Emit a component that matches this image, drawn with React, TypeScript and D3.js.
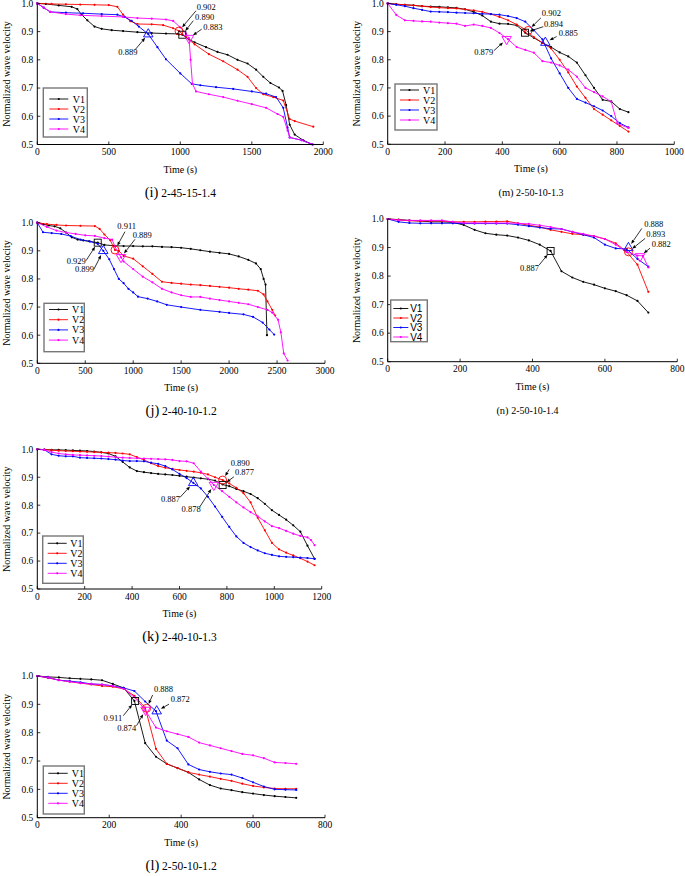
import React from 'react';
import * as d3 from 'd3';

type Pt = [number, number];

const SERIES_NAMES = ['V1', 'V2', 'V3', 'V4'];
const SERIES_COLORS = ['#000000', '#ff0000', '#0000ff', '#ff00ff'];
const Y_TICKS = [0.5, 0.6, 0.7, 0.8, 0.9, 1.0];

// ---------- (i) 2-45-15-1.4 ----------
const I_XTICKS = [0, 500, 1000, 1500, 2000];
const i_V1: Pt[] = [[0,1],[60,0.998],[150,0.993],[240,0.988],[280,0.98],[310,0.96],[350,0.94],[400,0.918],[450,0.91],[520,0.905],[600,0.902],[700,0.898],[800,0.895],[900,0.893],[980,0.892],[1014,0.889],[1060,0.873],[1100,0.862],[1180,0.845],[1260,0.828],[1330,0.818],[1400,0.8],[1470,0.787],[1530,0.765],[1580,0.74],[1630,0.718],[1690,0.702],[1715,0.69],[1740,0.64],[1765,0.57],[1800,0.535],[1860,0.515],[1925,0.5]];
const i_V2: Pt[] = [[0,1],[100,0.998],[200,0.997],[300,0.996],[400,0.995],[500,0.994],[560,0.988],[600,0.96],[650,0.937],[700,0.927],[800,0.926],[880,0.923],[950,0.912],[991,0.902],[1040,0.88],[1100,0.855],[1200,0.82],[1300,0.795],[1400,0.765],[1470,0.74],[1530,0.7],[1580,0.678],[1650,0.668],[1720,0.656],[1765,0.59],[1800,0.583],[1930,0.563]];
const i_V3: Pt[] = [[0,1],[45,0.985],[90,0.97],[200,0.967],[320,0.965],[450,0.962],[560,0.96],[610,0.952],[660,0.938],[710,0.918],[776,0.891],[840,0.845],[900,0.802],[1000,0.752],[1080,0.715],[1140,0.71],[1250,0.703],[1370,0.697],[1500,0.688],[1600,0.68],[1670,0.668],[1720,0.63],[1750,0.56],[1765,0.525],[1850,0.515],[1925,0.5]];
const i_V4: Pt[] = [[0,1],[45,0.985],[90,0.97],[200,0.962],[300,0.958],[450,0.955],[600,0.952],[700,0.948],[800,0.946],[900,0.943],[950,0.938],[1000,0.915],[1040,0.893],[1061,0.877],[1072,0.8],[1085,0.715],[1110,0.688],[1200,0.678],[1300,0.668],[1400,0.655],[1500,0.643],[1600,0.63],[1680,0.608],[1720,0.598],[1750,0.55],[1765,0.525],[1850,0.515],[1925,0.5]];
const i_marks = [
  { s: 1, t: 991, v: 0.902, label: '0.902' },
  { s: 0, t: 1014, v: 0.889, label: '0.890' },
  { s: 3, t: 1061, v: 0.877, label: '0.883' },
  { s: 2, t: 776, v: 0.891, label: '0.889' },
];

// ---------- (m) 2-50-10-1.3 ----------
const M_XTICKS = [0, 200, 400, 600, 800, 1000];
const m_V1: Pt[] = [[0,1],[30,0.997],[60,0.995],[90,0.993],[120,0.99],[150,0.989],[180,0.988],[210,0.986],[240,0.984],[270,0.979],[300,0.97],[330,0.957],[360,0.935],[390,0.928],[420,0.927],[450,0.922],[480,0.896],[510,0.878],[540,0.86],[570,0.845],[600,0.826],[630,0.812],[660,0.79],[690,0.745],[720,0.7],[750,0.658],[780,0.652],[810,0.625],[840,0.614]];
const m_V2: Pt[] = [[0,1],[30,0.997],[60,0.995],[90,0.993],[120,0.99],[150,0.987],[180,0.985],[210,0.983],[240,0.982],[270,0.979],[300,0.975],[330,0.97],[360,0.962],[390,0.952],[420,0.94],[450,0.925],[480,0.907],[510,0.88],[540,0.86],[570,0.84],[600,0.8],[630,0.755],[660,0.705],[690,0.665],[720,0.625],[750,0.605],[780,0.585],[810,0.565],[840,0.545]];
const m_V3: Pt[] = [[0,1],[30,0.995],[60,0.99],[90,0.983],[120,0.977],[150,0.971],[180,0.97],[210,0.969],[240,0.967],[270,0.966],[300,0.965],[330,0.963],[360,0.962],[390,0.96],[420,0.955],[450,0.948],[480,0.935],[510,0.905],[540,0.872],[570,0.805],[600,0.752],[630,0.7],[660,0.661],[690,0.648],[720,0.635],[750,0.62],[780,0.6],[810,0.575],[840,0.56]];
const m_V4: Pt[] = [[0,1],[30,0.959],[60,0.94],[90,0.938],[120,0.936],[150,0.935],[180,0.932],[210,0.93],[240,0.928],[270,0.92],[300,0.925],[330,0.92],[360,0.913],[390,0.895],[420,0.873],[450,0.845],[480,0.835],[510,0.825],[540,0.795],[570,0.79],[600,0.78],[630,0.765],[660,0.74],[690,0.7],[720,0.685],[750,0.67],[780,0.651],[801,0.574],[840,0.558]];
const m_marks = [
  { s: 1, t: 490, v: 0.904, label: '0.902' },
  { s: 0, t: 479, v: 0.896, label: '0.894' },
  { s: 2, t: 550, v: 0.861, label: '0.885' },
  { s: 3, t: 415, v: 0.873, label: '0.879' },
];

// ---------- (j) 2-40-10-1.2 ----------
const J_XTICKS = [0, 500, 1000, 1500, 2000, 2500, 3000];
const j_V1: Pt[] = [[0,1],[60,0.995],[120,0.99],[180,0.987],[240,0.98],[300,0.965],[360,0.948],[420,0.94],[480,0.937],[540,0.934],[630,0.929],[700,0.921],[800,0.918],[900,0.917],[1000,0.917],[1100,0.916],[1200,0.916],[1300,0.914],[1400,0.913],[1500,0.911],[1600,0.907],[1700,0.902],[1800,0.897],[1900,0.893],[2000,0.889],[2100,0.88],[2200,0.868],[2280,0.855],[2330,0.835],[2360,0.8],[2380,0.78],[2395,0.6]];
const j_V2: Pt[] = [[0,1],[100,0.995],[200,0.992],[300,0.99],[450,0.989],[600,0.988],[650,0.978],[700,0.958],[760,0.938],[810,0.903],[850,0.9],[900,0.882],[1000,0.872],[1100,0.845],[1200,0.818],[1300,0.79],[1400,0.786],[1500,0.783],[1600,0.78],[1700,0.778],[1800,0.775],[1900,0.772],[2000,0.769],[2100,0.765],[2200,0.762],[2300,0.758],[2360,0.745],[2400,0.72],[2450,0.69],[2480,0.67]];
const j_V3: Pt[] = [[0,1],[60,0.966],[150,0.963],[250,0.96],[350,0.952],[450,0.94],[550,0.933],[630,0.925],[688,0.9],[750,0.87],[800,0.835],[850,0.8],[900,0.785],[950,0.765],[1000,0.752],[1050,0.737],[1150,0.73],[1250,0.72],[1350,0.708],[1500,0.7],[1700,0.69],[1900,0.683],[2000,0.679],[2150,0.674],[2250,0.665],[2350,0.645],[2420,0.62],[2470,0.602]];
const j_V4: Pt[] = [[0,1],[100,0.985],[200,0.972],[300,0.965],[400,0.96],[500,0.955],[600,0.953],[700,0.945],[780,0.94],[810,0.915],[873,0.877],[900,0.862],[1000,0.835],[1100,0.808],[1200,0.788],[1300,0.765],[1400,0.752],[1500,0.742],[1600,0.736],[1700,0.736],[1800,0.73],[1900,0.725],[2000,0.72],[2100,0.715],[2200,0.71],[2300,0.7],[2400,0.69],[2450,0.68],[2510,0.655],[2540,0.61],[2570,0.535],[2610,0.51]];
const j_marks = [
  { s: 1, t: 810, v: 0.903, label: '0.911' },
  { s: 3, t: 873, v: 0.877, label: '0.889' },
  { s: 0, t: 630, v: 0.929, label: '0.929' },
  { s: 2, t: 688, v: 0.9, label: '0.899' },
];

// ---------- (n) 2-50-10-1.4 ----------
const N_XTICKS = [0, 200, 400, 600, 800];
const n_V1: Pt[] = [[0,1],[30,0.998],[60,0.995],[90,0.993],[120,0.99],[150,0.99],[180,0.988],[210,0.979],[240,0.962],[270,0.95],[300,0.945],[330,0.942],[360,0.935],[390,0.925],[420,0.91],[450,0.888],[480,0.817],[510,0.795],[540,0.78],[570,0.77],[600,0.757],[630,0.747],[660,0.733],[690,0.713],[720,0.672]];
const n_V2: Pt[] = [[0,1],[30,0.997],[60,0.994],[90,0.993],[120,0.993],[150,0.993],[180,0.99],[210,0.99],[240,0.99],[270,0.991],[300,0.991],[330,0.992],[360,0.985],[390,0.978],[420,0.972],[450,0.962],[480,0.955],[510,0.948],[540,0.945],[570,0.94],[600,0.93],[630,0.915],[660,0.885],[690,0.84],[720,0.745]];
const n_V3: Pt[] = [[0,1],[30,0.99],[60,0.986],[90,0.985],[120,0.985],[150,0.985],[180,0.985],[210,0.984],[240,0.984],[270,0.984],[300,0.984],[330,0.984],[360,0.98],[390,0.975],[420,0.97],[450,0.966],[480,0.965],[510,0.955],[540,0.945],[570,0.935],[600,0.91],[630,0.897],[660,0.895],[690,0.86],[720,0.833]];
const n_V4: Pt[] = [[0,1],[30,0.996],[60,0.995],[90,0.995],[120,0.995],[150,0.995],[180,0.99],[210,0.986],[240,0.986],[270,0.986],[300,0.986],[330,0.986],[360,0.985],[390,0.983],[420,0.978],[450,0.972],[480,0.965],[510,0.955],[540,0.948],[570,0.94],[600,0.93],[630,0.91],[660,0.885],[690,0.872],[705,0.871],[720,0.83]];
const n_marks = [
  { s: 2, t: 665, v: 0.899, label: '0.888' },
  { s: 1, t: 665, v: 0.885, label: '0.893' },
  { s: 3, t: 697, v: 0.869, label: '0.882' },
  { s: 0, t: 450, v: 0.888, label: '0.887' },
];

// ---------- (k) 2-40-10-1.3 ----------
const K_XTICKS = [0, 200, 400, 600, 800, 1000, 1200];
const k_V1: Pt[] = [[0,1],[30,0.999],[60,0.998],[90,0.998],[120,0.997],[150,0.996],[180,0.995],[210,0.994],[240,0.992],[270,0.989],[300,0.985],[330,0.975],[360,0.955],[390,0.935],[420,0.922],[450,0.918],[480,0.915],[510,0.912],[540,0.91],[570,0.908],[600,0.905],[630,0.902],[660,0.899],[690,0.896],[720,0.893],[750,0.888],[782,0.874],[810,0.868],[840,0.858],[870,0.85],[900,0.84],[930,0.825],[960,0.805],[990,0.782],[1020,0.765],[1050,0.748],[1080,0.728],[1110,0.705],[1140,0.655],[1170,0.608]];
const k_V2: Pt[] = [[0,1],[30,0.999],[60,0.997],[90,0.995],[120,0.994],[150,0.993],[180,0.992],[210,0.991],[240,0.99],[270,0.989],[300,0.988],[330,0.987],[360,0.985],[390,0.982],[420,0.972],[450,0.962],[480,0.95],[510,0.94],[540,0.934],[570,0.93],[600,0.926],[630,0.923],[660,0.92],[690,0.916],[720,0.91],[750,0.9],[782,0.89],[810,0.878],[840,0.862],[870,0.843],[900,0.81],[930,0.755],[960,0.71],[990,0.665],[1020,0.642],[1050,0.63],[1080,0.62],[1110,0.61],[1140,0.598],[1170,0.585]];
const k_V3: Pt[] = [[0,1],[30,0.998],[60,0.982],[90,0.977],[120,0.975],[150,0.975],[180,0.97],[210,0.969],[240,0.968],[270,0.967],[300,0.965],[330,0.963],[360,0.96],[390,0.958],[420,0.958],[450,0.957],[480,0.952],[510,0.948],[540,0.94],[570,0.928],[600,0.912],[630,0.897],[658,0.88],[690,0.86],[720,0.83],[750,0.795],[780,0.758],[810,0.722],[840,0.688],[870,0.665],[900,0.65],[930,0.638],[960,0.628],[990,0.622],[1020,0.617],[1050,0.615],[1080,0.614],[1110,0.612],[1140,0.611],[1170,0.608]];
const k_V4: Pt[] = [[0,1],[30,0.998],[60,0.99],[90,0.985],[120,0.982],[150,0.98],[180,0.979],[210,0.978],[240,0.977],[270,0.976],[300,0.974],[330,0.972],[360,0.97],[390,0.969],[420,0.968],[450,0.967],[480,0.966],[510,0.965],[540,0.964],[570,0.962],[600,0.958],[630,0.957],[660,0.95],[690,0.92],[720,0.895],[745,0.872],[780,0.85],[810,0.83],[840,0.81],[870,0.792],[900,0.775],[930,0.76],[960,0.742],[990,0.725],[1020,0.718],[1050,0.708],[1080,0.698],[1110,0.69],[1140,0.685],[1155,0.675],[1170,0.657]];
const k_marks = [
  { s: 1, t: 782, v: 0.89, label: '0.890' },
  { s: 0, t: 782, v: 0.872, label: '0.877' },
  { s: 2, t: 658, v: 0.88, label: '0.887' },
  { s: 3, t: 745, v: 0.872, label: '0.878' },
];

// ---------- (l) 2-50-10-1.2 ----------
const L_XTICKS = [0, 200, 400, 600, 800];
const l_V1: Pt[] = [[0,1],[30,0.997],[60,0.995],[90,0.992],[120,0.99],[150,0.988],[180,0.985],[210,0.972],[240,0.958],[270,0.912],[300,0.763],[330,0.715],[360,0.69],[390,0.675],[420,0.66],[450,0.635],[480,0.615],[510,0.603],[540,0.597],[570,0.59],[600,0.585],[630,0.58],[660,0.576],[690,0.573],[720,0.57]];
const l_V2: Pt[] = [[0,1],[30,0.993],[60,0.986],[90,0.98],[120,0.975],[150,0.97],[180,0.965],[210,0.962],[240,0.955],[270,0.93],[300,0.888],[330,0.743],[360,0.69],[390,0.675],[420,0.66],[450,0.652],[480,0.645],[510,0.637],[540,0.63],[570,0.62],[600,0.612],[630,0.607],[660,0.603],[690,0.602],[720,0.602]];
const l_V3: Pt[] = [[0,1],[30,0.995],[60,0.985],[90,0.982],[120,0.978],[150,0.972],[180,0.97],[210,0.965],[240,0.958],[270,0.947],[300,0.91],[330,0.876],[360,0.772],[390,0.745],[420,0.688],[450,0.67],[480,0.662],[510,0.656],[540,0.652],[570,0.64],[600,0.625],[630,0.61],[660,0.6],[690,0.599],[720,0.598]];
const l_V4: Pt[] = [[0,1],[30,0.995],[60,0.985],[90,0.98],[120,0.975],[150,0.972],[180,0.97],[210,0.965],[240,0.955],[270,0.925],[300,0.88],[330,0.818],[360,0.805],[390,0.795],[420,0.785],[450,0.765],[480,0.755],[510,0.745],[540,0.735],[570,0.725],[600,0.72],[630,0.71],[660,0.695],[690,0.693],[720,0.69]];
const l_marks = [
  { s: 1, t: 304, v: 0.886, label: '0.888' },
  { s: 2, t: 332, v: 0.876, label: '0.872' },
  { s: 0, t: 272, v: 0.912, label: '0.911' },
  { s: 3, t: 301, v: 0.88, label: '0.874' },
];

// ---------- layout (pixels) ----------
const SERIF = '"Liberation Serif", "DejaVu Serif", serif';
const SANS = '"Liberation Sans", Arial, sans-serif';

const LAYOUT: Record<string, any> = {
  i: { x0: 37.3, x1: 323.3, y0: 3.4, y1: 144.5, ylabX: 9.5, capBig: true, capDx: 0,
       legend: { x: 43.3, y: 88, w: 44, h: 49, l0: 6, l1: 25, tx: 29.5, row0: 99, step: 10, font: SERIF },
       notes: [[17.7,-21.5,17,-20.3],[12.7,-14.7,11,-14],[14.3,-8.3,12.7,-9],[-30,20.7,-13.3,15.7]] },
  m: { x0: 387.7, x1: 674.3, y0: 3.4, y1: 144.3, ylabX: 360, capBig: false, capDx: 0,
       legend: { x: 395, y: 84, w: 42, h: 46, l0: 5, l1: 24, tx: 28, row0: 90, step: 10, font: SERIF },
       notes: [[13.7,-14,12.7,-12.5],[19,-5.6,18.3,-6],[13.3,-7,11.3,-6],[-32.4,15.7,-12.7,11.4]] },
  j: { x0: 37.3, x1: 325, y0: 222.7, y1: 363.3, ylabX: 9.5, capBig: true, capDx: 0,
       legend: { x: 44, y: 303.3, w: 40.3, h: 48.4, l0: 5, l1: 24, tx: 28, row0: 309.5, step: 10.2, font: SERIF },
       notes: [[2.3,-20.7,10,-18.3],[11.7,-19.6,14,-18],[-31,21.3,-11.7,18],[-28.3,21.6,-9.3,18.3]] },
  n: { x0: 387.7, x1: 677.3, y0: 219, y1: 361.7, ylabX: 360, capBig: false, capDx: -5,
       legend: { x: 390.7, y: 300, w: 36.6, h: 41.7, l0: 2.6, l1: 17.6, tx: 19.5, row0: 308.5, step: 9.5, font: SANS },
       notes: [[15.7,-21,13.4,-19.4],[17.7,-14.4,16.7,-13.4],[11.7,-9.8,10,-8.2],[-30.7,19.7,-11.4,14]] },
  k: { x0: 37.3, x1: 321.7, y0: 449.3, y1: 589, ylabX: 9.5, capBig: true, capDx: 0,
       legend: { x: 42.7, y: 536, w: 40.6, h: 47.3, l0: 5, l1: 24, tx: 27.5, row0: 543.3, step: 10, font: SERIF },
       notes: [[8,-14.3,6.6,-10.7],[12.3,-10,11.3,-8.3],[-32.3,19,-13.3,14.6],[-32.3,26.7,-14,21.7]] },
  l: { x0: 37.3, x1: 325, y0: 676, y1: 817.7, ylabX: 9.5, capBig: true, capDx: 0,
       legend: { x: 43.3, y: 766, w: 41, h: 48, l0: 5, l1: 24.4, tx: 28.4, row0: 773.3, step: 10, font: SERIF },
       notes: [[7.3,-16,6,-13.3],[14,-8.7,12.3,-7],[-31.7,20,-11.7,14.7],[-28.4,21,-9,15.7]] },
};

const PANELS = [
  { key: 'i', tag: '(i)', name: '2-45-15-1.4', xTicks: I_XTICKS, series: [i_V1, i_V2, i_V3, i_V4], marks: i_marks },
  { key: 'm', tag: '(m)', name: '2-50-10-1.3', xTicks: M_XTICKS, series: [m_V1, m_V2, m_V3, m_V4], marks: m_marks },
  { key: 'j', tag: '(j)', name: '2-40-10-1.2', xTicks: J_XTICKS, series: [j_V1, j_V2, j_V3, j_V4], marks: j_marks },
  { key: 'n', tag: '(n)', name: '2-50-10-1.4', xTicks: N_XTICKS, series: [n_V1, n_V2, n_V3, n_V4], marks: n_marks },
  { key: 'k', tag: '(k)', name: '2-40-10-1.3', xTicks: K_XTICKS, series: [k_V1, k_V2, k_V3, k_V4], marks: k_marks },
  { key: 'l', tag: '(l)', name: '2-50-10-1.2', xTicks: L_XTICKS, series: [l_V1, l_V2, l_V3, l_V4], marks: l_marks },
];

function markerShape(s: number, cx: number, cy: number, color: string, key: string) {
  const common = { fill: 'none', stroke: color, strokeWidth: 0.9 };
  if (s === 0) {
    const a = 7;
    return <rect key={key} x={cx - a / 2} y={cy - a / 2} width={a} height={a} {...common} />;
  }
  if (s === 1) return <circle key={key} cx={cx} cy={cy} r={4} {...common} />;
  const side = 9.5;
  const h = (side * Math.sqrt(3)) / 2;
  const d = s === 2
    ? `M${cx},${cy - (2 * h) / 3}L${cx + side / 2},${cy + h / 3}L${cx - side / 2},${cy + h / 3}Z`
    : `M${cx},${cy + (2 * h) / 3}L${cx + side / 2},${cy - h / 3}L${cx - side / 2},${cy - h / 3}Z`;
  return <path key={key} d={d} {...common} />;
}

function Panel({ p }: { p: any }) {
  const L = LAYOUT[p.key];
  const xMax = p.xTicks[p.xTicks.length - 1];
  const x = d3.scaleLinear().domain([0, xMax]).range([L.x0, L.x1]);
  const y = d3.scaleLinear().domain([0.5, 1.0]).range([L.y1, L.y0]);
  const line = d3.line<Pt>().x((d) => x(d[0])).y((d) => y(d[1]));
  const cx = (L.x0 + L.x1) / 2;
  const cy = (L.y0 + L.y1) / 2;
  const lg = L.legend;

  return (
    <g>
      {p.series.map((data: Pt[], si: number) => (
        <g key={'s' + si}>
          <path d={line(data) || ''} fill="none" stroke={SERIES_COLORS[si]} strokeWidth={0.9} />
          {data.map((d, di) => (
            <circle key={di} cx={x(d[0])} cy={y(d[1])} r={1.1} fill={SERIES_COLORS[si]} />
          ))}
        </g>
      ))}
      <line x1={L.x0} x2={L.x0} y1={L.y0} y2={L.y1} stroke="#000" strokeWidth={1} />
      <line x1={L.x0} x2={L.x1} y1={L.y1} y2={L.y1} stroke="#000" strokeWidth={1} />
      {Y_TICKS.map((t) => (
        <g key={'yt' + t}>
          <line x1={L.x0} x2={L.x0 + 3} y1={y(t)} y2={y(t)} stroke="#000" strokeWidth={0.8} />
          <text x={L.x0 - 4} y={y(t)} dy="0.35em" textAnchor="end" fontSize={9.5} fontFamily={SERIF}>
            {d3.format('.1f')(t)}
          </text>
        </g>
      ))}
      {p.xTicks.map((t: number) => (
        <g key={'xt' + t}>
          <line x1={x(t)} x2={x(t)} y1={L.y1} y2={L.y1 - 3} stroke="#000" strokeWidth={0.8} />
          <text x={x(t)} y={L.y1 + 10.5} textAnchor="middle" fontSize={9.5} fontFamily={SERIF}>
            {t}
          </text>
        </g>
      ))}
      <text x={cx} y={L.y1 + 28} textAnchor="middle" fontSize={10} fontFamily={SERIF}>Time (s)</text>
      <text transform={`translate(${L.ylabX},${cy}) rotate(-90)`} textAnchor="middle" fontSize={10} fontFamily={SERIF}>
        Normalized wave velocity
      </text>
      <text x={cx + L.capDx} y={L.y1 + 52} textAnchor="middle" fontFamily={SERIF} fontSize={L.capBig ? 11.5 : 10}>
        <tspan fontSize={L.capBig ? 14.5 : 10.5}>{p.tag}</tspan>
        <tspan> {p.name}</tspan>
      </text>
      <rect x={lg.x} y={lg.y} width={lg.w} height={lg.h} fill="#fff" stroke="#777" strokeWidth={1.4} />
      {SERIES_NAMES.map((nm, k) => {
        const ry = lg.row0 + k * lg.step;
        return (
          <g key={'lg' + k}>
            <line x1={lg.x + lg.l0} x2={lg.x + lg.l1} y1={ry} y2={ry} stroke={SERIES_COLORS[k]} strokeWidth={0.9} />
            <circle cx={lg.x + (lg.l0 + lg.l1) / 2} cy={ry} r={1.1} fill={SERIES_COLORS[k]} />
            <text x={lg.x + lg.tx} y={ry} dy="0.35em" fontSize={10} fontFamily={lg.font}>{nm}</text>
          </g>
        );
      })}
      {p.marks.map((m: any, k: number) => {
        const mx = x(m.t);
        const my = y(m.v);
        const [tdx, tdy, adx, ady] = L.notes[k];
        const tx = mx + adx;
        const ty = my + ady;
        const dx = mx - tx;
        const dy = my - ty;
        const len = Math.hypot(dx, dy);
        const ux = dx / len;
        const uy = dy / len;
        const ex = mx - ux * 4.8;
        const ey = my - uy * 4.8;
        const hl = 4;
        const hw = 1.6;
        const bx = ex - ux * hl;
        const by = ey - uy * hl;
        const head = `M${ex},${ey}L${bx - uy * hw},${by + ux * hw}L${bx + uy * hw},${by - ux * hw}Z`;
        return (
          <g key={'mk' + k}>
            {markerShape(m.s, mx, my, SERIES_COLORS[m.s], 'shape' + k)}
            <line x1={tx} y1={ty} x2={bx} y2={by} stroke="#000" strokeWidth={0.8} />
            <path d={head} fill="#000" />
            <text x={mx + tdx} y={my + tdy} fontSize={8.5} fontFamily={SERIF}>{m.label}</text>
          </g>
        );
      })}
    </g>
  );
}

export default function App() {
  return (
    <svg width={685} height={876} viewBox="0 0 685 876"
      style={{ position: 'absolute', left: 0, top: 0, background: '#fff', display: 'block' }}>
      <rect x={0} y={0} width={685} height={876} fill="#fff" />
      {PANELS.map((p) => (
        <Panel key={p.key} p={p} />
      ))}
    </svg>
  );
}
